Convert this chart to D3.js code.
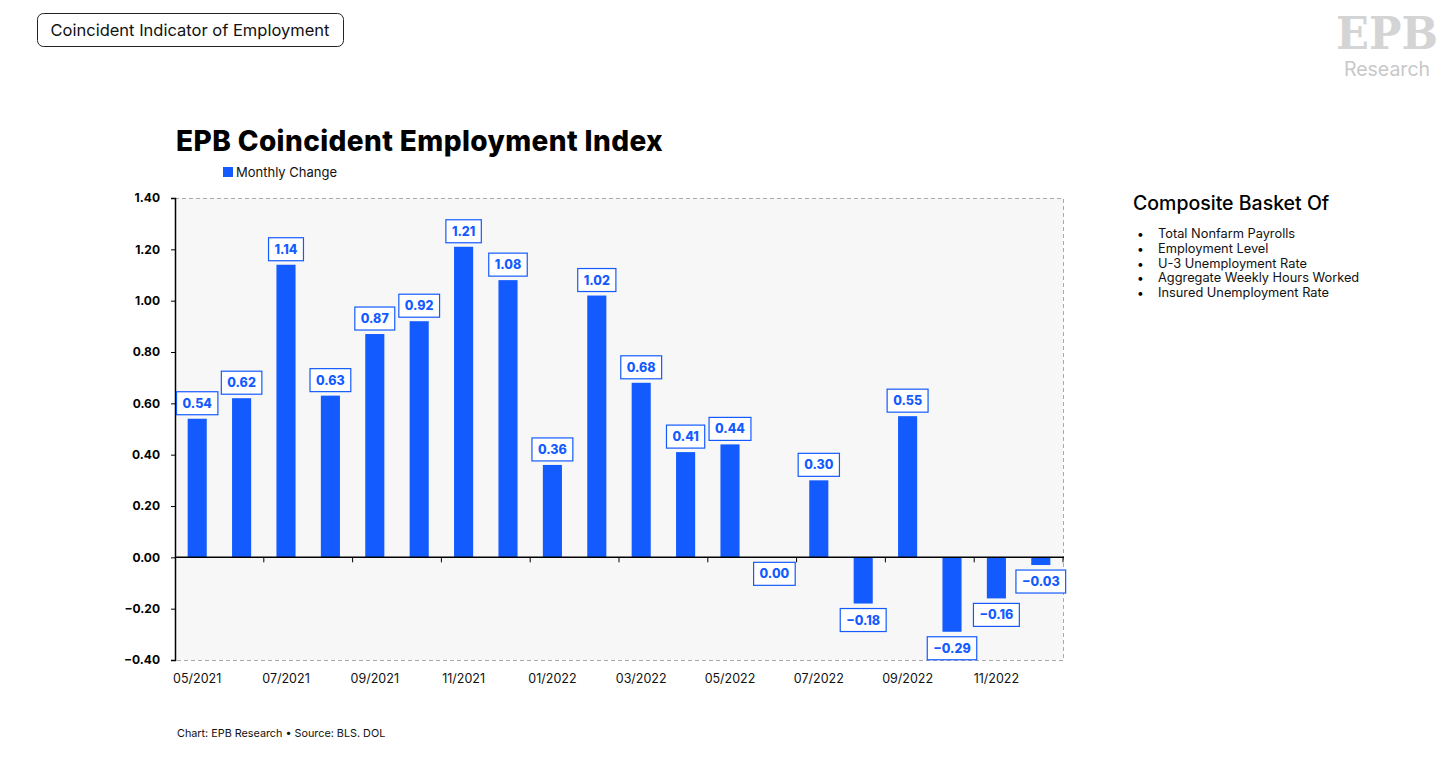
<!DOCTYPE html>
<html>
<head>
<meta charset="utf-8">
<script src="https://cdn.jsdelivr.net/npm/d3@7"></script>
<style>
  body { margin: 0; background: #fff; }
  svg { display: block; font-family: Inter, "Open Sans", sans-serif; }
</style>
</head>
<body>
<div id="chart"></div>
<script>
// monthly data, 05/2021 .. 12/2022
const months = ["05/2021", "06/2021", "07/2021", "08/2021", "09/2021", "10/2021", "11/2021", "12/2021",
    "01/2022", "02/2022", "03/2022", "04/2022", "05/2022", "06/2022", "07/2022", "08/2022",
    "09/2022", "10/2022", "11/2022", "12/2022"];
const monthlyChange = [0.54, 0.62, 1.14, 0.63, 0.87, 0.92, 1.21, 1.08, 0.36, 1.02, 0.68, 0.41,
    0.44, 0.00, 0.30, -0.18, 0.55, -0.29, -0.16, -0.03];
const yTicks = [-0.4, -0.2, 0, 0.2, 0.4, 0.6, 0.8, 1.0, 1.2, 1.4];
const basket = ["Total Nonfarm Payrolls", "Employment Level", "U-3 Unemployment Rate",
    "Aggregate Weekly Hours Worked", "Insured Unemployment Rate"];

const width = 1456, height = 759;
const blue = "#135bff";
const margin = { left: 175, right: 1063, top: 198, bottom: 660 };

const svg = d3.select("#chart").append("svg")
    .attr("width", width)
    .attr("height", height);

// top-left tag box
svg.append("rect")
    .attr("x", 37.5).attr("y", 13.5)
    .attr("width", 306).attr("height", 33)
    .attr("rx", 6)
    .attr("fill", "#fff")
    .attr("stroke", "#222")
    .attr("stroke-width", 1);
svg.append("text")
    .attr("x", 190).attr("y", 35.5)
    .attr("text-anchor", "middle")
    .attr("font-size", 16.5)
    .attr("fill", "#111")
    .text("Coincident Indicator of Employment");

// logo
svg.append("text")
    .attr("x", 1387).attr("y", 49)
    .attr("text-anchor", "middle")
    .attr("font-family", "'DejaVu Serif', serif")
    .attr("font-weight", "bold")
    .attr("font-size", 44)
    .attr("textLength", 102)
    .attr("lengthAdjust", "spacingAndGlyphs")
    .attr("fill", "#d4d4d4")
    .text("EPB");
svg.append("text")
    .attr("x", 1387).attr("y", 76)
    .attr("text-anchor", "middle")
    .attr("font-size", 19.5)
    .attr("fill", "#c8c8c8")
    .text("Research");

// title + legend
svg.append("text")
    .attr("x", 176).attr("y", 151)
    .attr("font-size", 28)
    .attr("font-weight", 800)
    .attr("letter-spacing", 0.4)
    .attr("fill", "#000")
    .text("EPB Coincident Employment Index");
svg.append("rect")
    .attr("x", 223).attr("y", 167)
    .attr("width", 10).attr("height", 10)
    .attr("fill", blue);
svg.append("text")
    .attr("x", 236).attr("y", 176.5)
    .attr("font-size", 13)
    .attr("fill", "#111")
    .text("Monthly Change");

// scales
const x = d3.scaleBand()
    .domain(months)
    .range([margin.left, margin.right])
    .paddingInner(0.57)
    .paddingOuter(0.285);
const step = (margin.right - margin.left) / months.length;
const y = d3.scaleLinear()
    .domain([-0.4, 1.4])
    .range([margin.bottom, margin.top]);

// plot background + dashed frame
svg.append("rect")
    .attr("x", margin.left).attr("y", margin.top)
    .attr("width", margin.right - margin.left)
    .attr("height", margin.bottom - margin.top)
    .attr("fill", "#f7f7f7");
svg.append("path")
    .attr("d", `M${margin.left},${margin.top + 0.5}H${margin.right + 0.5}V${margin.bottom + 0.5}H${margin.left}`)
    .attr("fill", "none")
    .attr("stroke", "#aaa")
    .attr("stroke-dasharray", "4,3");

// bars
svg.selectAll(".bar")
    .data(monthlyChange)
    .join("rect")
    .attr("class", "bar")
    .attr("x", (d, i) => x(months[i]))
    .attr("width", x.bandwidth())
    .attr("y", d => y(Math.max(0, d)))
    .attr("height", d => Math.abs(y(d) - y(0)))
    .attr("fill", blue);

// y axis
const yAxis = svg.append("g")
    .attr("transform", `translate(${margin.left},0)`)
    .call(d3.axisLeft(y).tickValues(yTicks).tickFormat(d3.format(".2f")).tickSize(4).tickPadding(11));
yAxis.select(".domain").attr("stroke", "#000").attr("stroke-width", 1.5);
yAxis.selectAll("text")
    .attr("font-family", "Inter, sans-serif")
    .attr("font-size", 12)
    .attr("font-weight", 700)
    .attr("fill", "#000")
    .text(d => d3.format(".2f")(d).replace("-", "\u2212"));

// x axis on the zero line, ticks at every second band boundary
const tickPos = months.map((m, i) => i).filter(i => i % 2 === 0 && i > 0).map(i => x(months[i]) - step * 0.285);
tickPos.push(margin.right);
svg.append("line")
    .attr("x1", margin.left).attr("x2", margin.right + 1)
    .attr("y1", y(0)).attr("y2", y(0))
    .attr("stroke", "#000").attr("stroke-width", 1.5);
svg.selectAll(".xtick")
    .data(tickPos)
    .join("line")
    .attr("class", "xtick")
    .attr("x1", d => d).attr("x2", d => d)
    .attr("y1", y(0)).attr("y2", y(0) + 5)
    .attr("stroke", "#000");
svg.selectAll(".xlabel")
    .data(months.filter((m, i) => i % 2 === 0))
    .join("text")
    .attr("class", "xlabel")
    .attr("x", d => x(d) + x.bandwidth() / 2)
    .attr("y", 683)
    .attr("text-anchor", "middle")
    .attr("font-size", 12.5)
    .attr("fill", "#111")
    .text(d => d);

// value labels
const boxH = 23;
const labels = svg.selectAll(".vlabel")
    .data(monthlyChange)
    .join("g")
    .attr("class", "vlabel")
    .attr("transform", (d, i) => {
        const cx = x(months[i]) + x.bandwidth() / 2;
        const cy = d > 0 ? y(d) - 4 - boxH / 2 : y(d) + 5 + boxH / 2;
        return `translate(${cx},${cy})`;
    });
labels.append("text")
    .attr("text-anchor", "middle")
    .attr("dy", "0.36em")
    .attr("font-size", 12.5)
    .attr("font-weight", 800)
    .attr("fill", blue)
    .text(d => d3.format(".2f")(d).replace("-", "\u2212"));
labels.each(function () {
    const g = d3.select(this);
    const w = g.select("text").node().getComputedTextLength() + 12;
    g.insert("rect", "text")
        .attr("x", -w / 2).attr("y", -boxH / 2)
        .attr("width", w).attr("height", boxH)
        .attr("fill", "#fff")
        .attr("stroke", blue)
        .attr("stroke-width", 1.2);
});

// right panel
svg.append("text")
    .attr("x", 1133).attr("y", 210)
    .attr("font-size", 19.5)
    .attr("font-weight", 500)
    .attr("fill", "#000")
    .text("Composite Basket Of");
const items = svg.selectAll(".item")
    .data(basket)
    .join("g")
    .attr("class", "item")
    .attr("transform", (d, i) => `translate(1133,${238 + i * 14.8})`);
items.append("text")
    .attr("x", 4)
    .attr("font-size", 12)
    .text("\u2022");
items.append("text")
    .attr("x", 25)
    .attr("font-size", 12.8)
    .attr("fill", "#111")
    .text(d => d);

// footer
svg.append("text")
    .attr("x", 177).attr("y", 737)
    .attr("font-size", 10.8)
    .attr("fill", "#111")
    .text("Chart: EPB Research  \u2022  Source: BLS. DOL");
</script>
</body>
</html>
